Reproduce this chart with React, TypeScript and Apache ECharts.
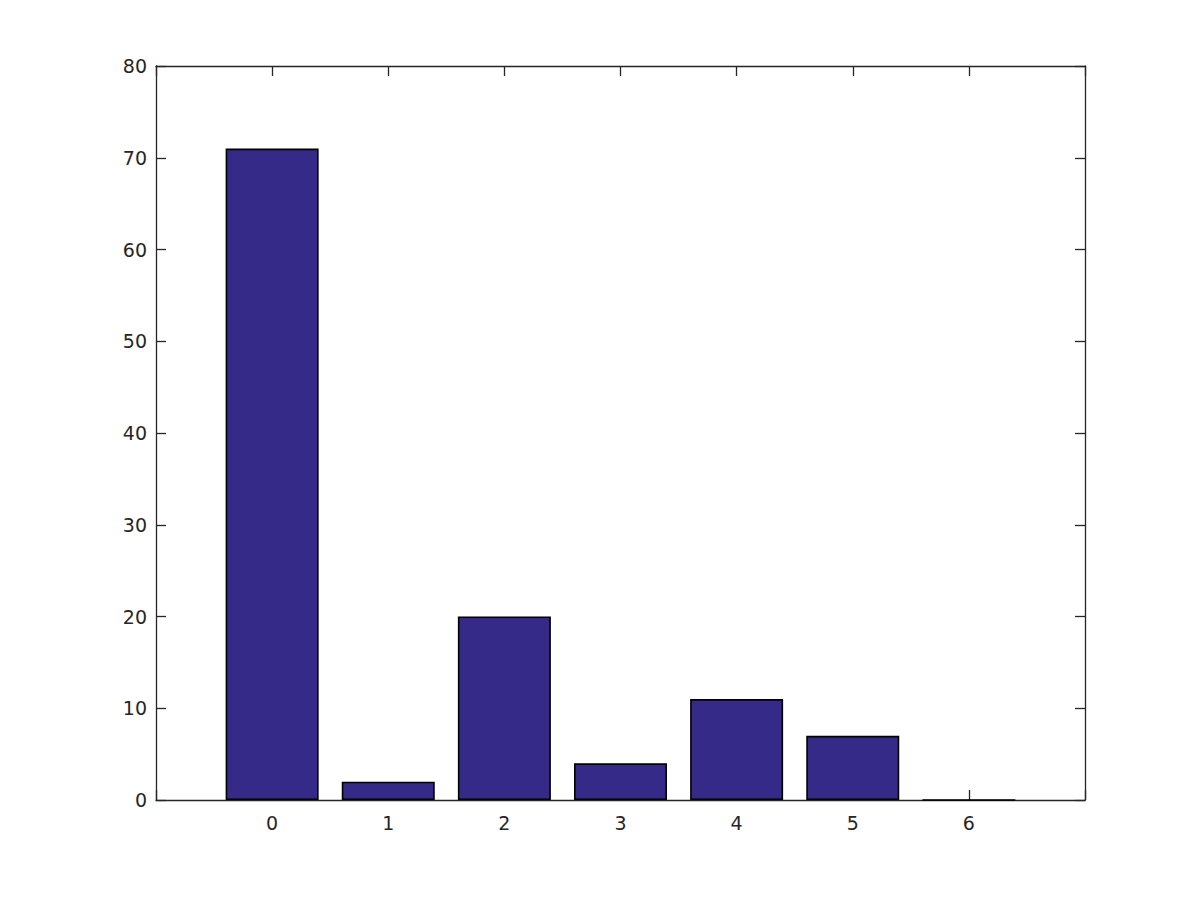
import React, { useEffect, useRef } from "react";
import * as echarts from "echarts";

const categories = [0, 1, 2, 3, 4, 5, 6];
const counts = [71, 2, 20, 4, 11, 7, 0];
const yTicks = [0, 10, 20, 30, 40, 50, 60, 70, 80];

export default function App() {
  const ref = useRef<HTMLDivElement>(null);
  useEffect(() => {
    if (!ref.current) return;
    const chart = echarts.init(ref.current, null, { renderer: "svg" });
    const axisColor = "#262626";
    const font = "DejaVu Sans";
    const common = {
      axisLine: { show: true, onZero: false, lineStyle: { color: axisColor, width: 1.3 } },
      axisTick: { show: true, inside: true, length: 10, lineStyle: { color: axisColor, width: 1.3 } },
      splitLine: { show: false },
    };
    chart.setOption({
      animation: false,
      backgroundColor: "#ffffff",
      grid: { left: 156, top: 66, right: 115, bottom: 100, containLabel: false },
      xAxis: [
        {
          type: "value",
          min: -1,
          max: 7,
          interval: 1,
          position: "bottom",
          ...common,
          axisLabel: {
            color: axisColor,
            fontFamily: font,
            fontSize: 19,
            margin: 13,
            formatter: (v: number) => (categories.includes(v) ? String(v) : ""),
          },
        },
        {
          type: "value",
          min: -1,
          max: 7,
          interval: 1,
          position: "top",
          ...common,
          axisLabel: { show: false },
        },
      ],
      yAxis: [
        {
          type: "value",
          min: yTicks[0],
          max: yTicks[yTicks.length - 1],
          interval: 10,
          position: "left",
          ...common,
          axisLabel: { color: axisColor, fontFamily: font, fontSize: 19, margin: 9 },
        },
        {
          type: "value",
          min: yTicks[0],
          max: yTicks[yTicks.length - 1],
          interval: 10,
          position: "right",
          ...common,
          axisLabel: { show: false },
        },
      ],
      series: [
        {
          type: "bar",
          xAxisIndex: 0,
          yAxisIndex: 0,
          barWidth: 93,
          data: categories.map((c, i) => [c, counts[i]]),
          itemStyle: { color: "#352a87", borderColor: "#000000", borderWidth: 1.6 },
        },
      ],
    });
    return () => chart.dispose();
  }, []);
  return (
    <div
      ref={ref}
      style={{ position: "fixed", left: 0, top: 0, width: 1200, height: 900, background: "#fff" }}
    />
  );
}
